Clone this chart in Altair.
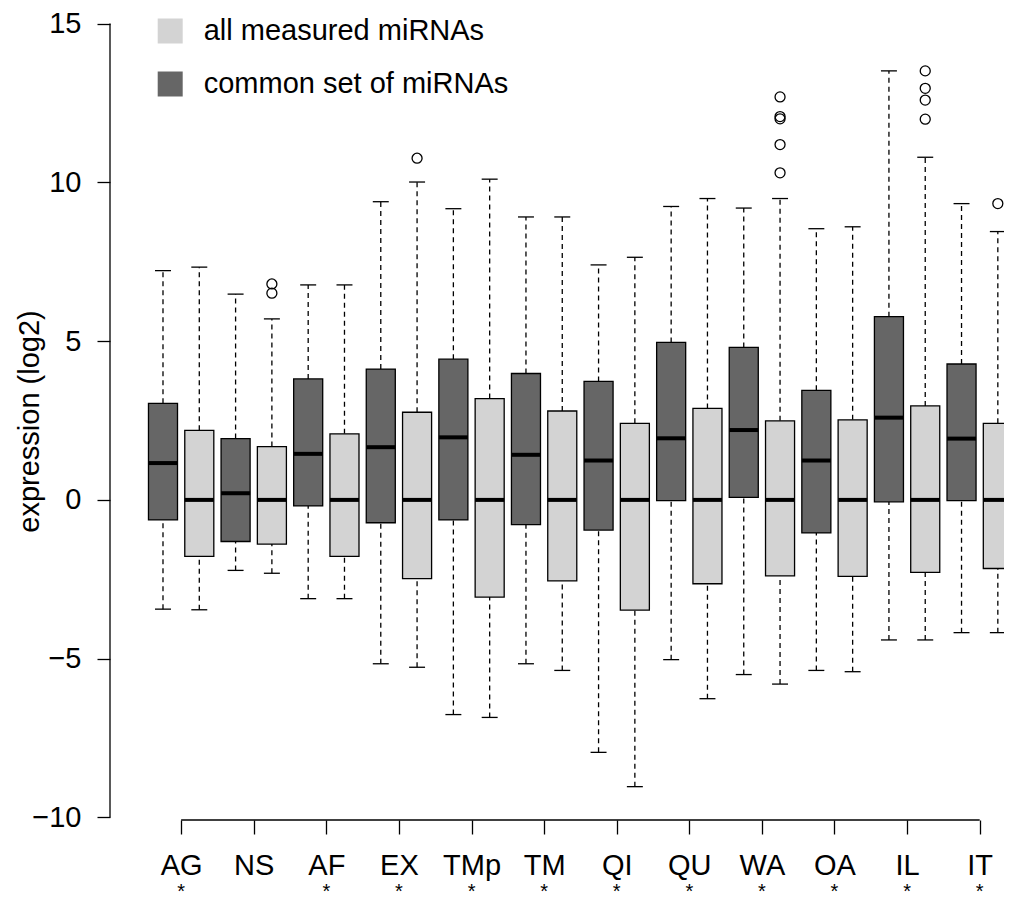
import json
import altair as alt
import pandas as pd

FONT = "Liberation Sans"

groups = ["AG", "NS", "AF", "EX", "TMp", "TM", "QI", "QU", "WA", "OA", "IL", "IT"]
significant = [True, False, True, True, True, True, True, True, True, True, True, True]

set_common = "common set of miRNAs"
set_all = "all measured miRNAs"

# common set of miRNAs (dark boxes)
common_lower = [-3.44, -2.22, -3.11, -5.16, -6.76, -5.16, -7.95, -5.03, -5.50, -5.37, -4.41, -4.18]
common_q1 = [-0.63, -1.31, -0.19, -0.72, -0.63, -0.78, -0.95, -0.02, 0.08, -1.04, -0.06, -0.02]
common_median = [1.16, 0.21, 1.45, 1.66, 1.97, 1.42, 1.24, 1.94, 2.20, 1.24, 2.59, 1.93]
common_q3 = [3.04, 1.93, 3.81, 4.12, 4.43, 3.98, 3.73, 4.96, 4.80, 3.45, 5.77, 4.28]
common_upper = [7.22, 6.48, 6.77, 9.39, 9.17, 8.91, 7.40, 9.24, 9.19, 8.54, 13.51, 9.33]

# all measured miRNAs (light boxes)
all_lower = [-3.46, -2.31, -3.11, -5.27, -6.85, -5.37, -9.03, -6.26, -5.80, -5.41, -4.41, -4.18]
all_q1 = [-1.78, -1.39, -1.78, -2.48, -3.06, -2.55, -3.47, -2.64, -2.39, -2.41, -2.28, -2.16]
all_median = [0, 0, 0, 0, 0, 0, 0, 0, 0, 0, 0, 0]
all_q3 = [2.19, 1.68, 2.08, 2.76, 3.19, 2.80, 2.41, 2.88, 2.49, 2.52, 2.96, 2.41]
all_upper = [7.33, 5.70, 6.77, 10.01, 10.10, 8.91, 7.64, 9.49, 9.49, 8.60, 10.79, 8.45]

# outliers (all belong to the "all measured miRNAs" boxes)
outlier_group = ["NS", "NS", "EX", "WA", "WA", "WA", "WA", "WA", "IL", "IL", "IL", "IL", "IT"]
outlier_value = [6.80, 6.51, 10.76, 12.69, 12.07, 12.00, 11.19, 10.30, 13.51, 12.96, 12.59, 11.99, 9.33]

rows = []
for i, g in enumerate(groups):
    rows.append(dict(pos=2 * i + 1, group=g, set=set_common, lower=common_lower[i], q1=common_q1[i],
                     median=common_median[i], q3=common_q3[i], upper=common_upper[i]))
    rows.append(dict(pos=2 * i + 2, group=g, set=set_all, lower=all_lower[i], q1=all_q1[i],
                     median=all_median[i], q3=all_q3[i], upper=all_upper[i]))
boxes = pd.DataFrame(rows)

outliers = pd.DataFrame({
    "pos": [2 * groups.index(g) + 2 for g in outlier_group],
    "value": outlier_value,
})

ticks = pd.DataFrame({
    "tick": [2 * i + 1.5 for i in range(len(groups))],
    "group": groups,
    "sig": significant,
})
stars = ticks[ticks["sig"]]

W, H = 894, 812
x_scale = alt.Scale(domain=[-0.46, 24.17], nice=False, zero=False)
y_scale = alt.Scale(domain=[-10.08, 15.49], nice=False, zero=False)

x_axis = alt.Axis(
    values=[2 * i + 1.5 for i in range(len(groups))],
    labelExpr="%s[round((datum.value - 1.5) / 2)]" % json.dumps(groups),
    title="", domain=False, grid=False, tickSize=14, tickWidth=1.3, tickColor="black",
    labelFont=FONT, labelFontSize=29, labelColor="black", labelBaseline="alphabetic",
    labelPadding=40, labelOverlap=False, labelFlush=False,
)
y_axis = alt.Axis(
    values=[-10, -5, 0, 5, 10, 15], format="d",
    title="expression (log2)", titleFont=FONT, titleFontSize=29, titleFontWeight="normal",
    titleColor="black", titleAngle=270, titleX=-72, titleY=413, titleAlign="center",
    titleBaseline="alphabetic",
    domain=False, grid=False, tickSize=13, tickWidth=1.3, tickColor="black",
    labelFont=FONT, labelFontSize=29, labelColor="black", labelPadding=16,
    labelOverlap=False, labelFlush=False,
)

X = lambda f: alt.X(f, scale=x_scale, axis=x_axis)
Y = lambda f: alt.Y(f, scale=y_scale, axis=y_axis)

base = alt.Chart(boxes).transform_calculate(
    bl="datum.pos - 0.4", br="datum.pos + 0.4",
    sl="datum.pos - 0.22", sr="datum.pos + 0.22",
)

whisk_lo = base.mark_rule(color="black", strokeWidth=1.3, strokeDash=[5, 4], clip=True).encode(
    x=X("pos:Q"), y=Y("lower:Q"), y2="q1:Q")
whisk_hi = base.mark_rule(color="black", strokeWidth=1.3, strokeDash=[5, 4], clip=True).encode(
    x=X("pos:Q"), y=Y("q3:Q"), y2="upper:Q")
staple_lo = base.mark_rule(color="black", strokeWidth=1.3, clip=True).encode(
    x=X("sl:Q"), x2="sr:Q", y=Y("lower:Q"))
staple_hi = base.mark_rule(color="black", strokeWidth=1.3, clip=True).encode(
    x=X("sl:Q"), x2="sr:Q", y=Y("upper:Q"))

box = base.mark_rect(stroke="black", strokeWidth=1.3, clip=True).encode(
    x=X("bl:Q"), x2="br:Q", y=Y("q1:Q"), y2="q3:Q",
    fill=alt.Fill(
        "set:N",
        scale=alt.Scale(domain=[set_all, set_common], range=["#d3d3d3", "#666666"]),
        legend=alt.Legend(
            title=None, orient="none", legendX=45.7, legendY=8.5, padding=0,
            symbolType="square", symbolSize=625, symbolStrokeWidth=0,
            labelFont=FONT, labelFontSize=29, labelColor="black", labelOffset=19,
            labelLimit=500, rowPadding=23,
        ),
    ),
)
median = base.mark_rule(color="black", strokeWidth=4, clip=True).encode(
    x=X("bl:Q"), x2="br:Q", y=Y("median:Q"))

pts = alt.Chart(outliers).mark_point(
    shape="circle", filled=False, stroke="black", strokeWidth=1.3, size=100, opacity=1
).encode(x=X("pos:Q"), y=Y("value:Q"))

y_spine = alt.Chart(pd.DataFrame({"y0": [-10], "y1": [15]})).mark_rule(
    color="black", strokeWidth=1.3).encode(x=alt.value(0), y=Y("y0:Q"), y2="y1:Q")
x_spine = alt.Chart(pd.DataFrame({"x0": [1.5], "x1": [23.5]})).mark_rule(
    color="black", strokeWidth=1.3).encode(x=X("x0:Q"), x2="x1:Q", y=alt.value(H))

star_text = alt.Chart(stars).mark_text(
    text="*", font=FONT, fontSize=20, color="black", baseline="alphabetic", align="center"
).encode(x=X("tick:Q"), y=alt.value(H + 78))

chart = alt.layer(
    whisk_lo, whisk_hi, box, median, staple_lo, staple_hi, pts, y_spine, x_spine, star_text
).properties(
    width=W, height=H,
    padding={"left": 102, "top": 0, "right": 0, "bottom": 83},
    autosize=alt.AutoSizeParams(type="none"),
    background="white",
).configure_view(strokeWidth=0, stroke="transparent")

chart.save("out.html", embed_options={"renderer": "svg", "actions": False})
